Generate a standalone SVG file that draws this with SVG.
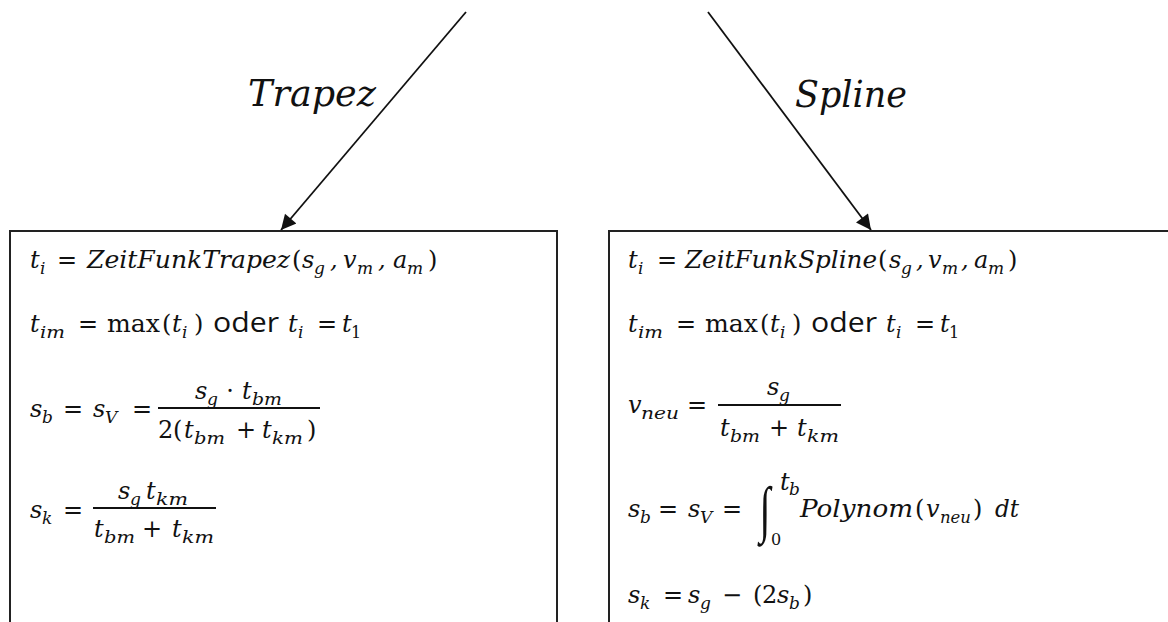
<svg xmlns="http://www.w3.org/2000/svg" width="1168" height="622" viewBox="0 0 1168 622">
<style>
.m{font-family:"DejaVu Serif",serif;font-style:italic;font-size:24px;fill:#111}
.s{font-family:"DejaVu Serif",serif;font-style:italic;font-size:17px;fill:#111}
.u{font-family:"DejaVu Serif",serif;font-size:24px;fill:#111}
.us{font-family:"DejaVu Serif",serif;font-size:16px;fill:#111}
.op{font-family:"DejaVu Serif",serif;font-size:24px;fill:#111;text-anchor:middle}
.o{font-family:"Open Sans","Liberation Sans",sans-serif;font-size:28px;fill:#111}
.int{font-family:"Liberation Serif",serif;font-size:40px;fill:#111;text-anchor:middle}
.lbl{font-family:"DejaVu Serif",serif;font-style:italic;font-size:37px;fill:#111}
.box{fill:#fff;stroke:#222;stroke-width:2}
.bar{stroke:#111;stroke-width:1.8}
.con{stroke:#111;stroke-width:1.8;fill:none}
</style>
<defs>
<marker id="ah" viewBox="0 0 10 10" refX="10" refY="5" markerWidth="20" markerHeight="15" markerUnits="userSpaceOnUse" orient="auto">
<path d="M0,0 L10,5 L0,10 z" fill="#111"/>
</marker>
</defs>
<rect width="1168" height="622" fill="#fff"/>

<g id="connectors">
<line class="con" x1="466" y1="12" x2="281" y2="230" marker-end="url(#ah)"/>
<line class="con" x1="708" y1="12" x2="871" y2="230" marker-end="url(#ah)"/>
<text class="lbl" x="248" y="106" textLength="128" lengthAdjust="spacingAndGlyphs">Trapez</text>
<text class="lbl" x="795" y="107" textLength="112" lengthAdjust="spacingAndGlyphs">Spline</text>
</g>

<g id="trapez">
<rect class="box" x="10" y="231" width="547" height="420"/>
<!-- line 1 -->
<text class="m" x="30" y="268">t</text><text class="s" x="40" y="274">i</text>
<text class="op" x="67" y="268">=</text>
<text class="m" x="87" y="268" textLength="203" lengthAdjust="spacingAndGlyphs">ZeitFunkTrapez</text>
<text class="u" x="292" y="268">(</text>
<text class="m" x="302" y="268">s</text><text class="s" x="314" y="274">g</text>
<text class="m" x="330" y="268">,</text>
<text class="m" x="343" y="268">v</text><text class="s" x="357" y="274">m</text>
<text class="m" x="378" y="268">,</text>
<text class="m" x="393" y="268">a</text><text class="s" x="407" y="274">m</text>
<text class="u" x="428" y="268">)</text>
<!-- line 2 -->
<text class="m" x="30" y="332">t</text><text class="s" x="40" y="338" textLength="25" lengthAdjust="spacingAndGlyphs">im</text>
<text class="op" x="88" y="332">=</text>
<text class="u" x="107" y="332" textLength="53" lengthAdjust="spacingAndGlyphs">max</text>
<text class="u" x="162" y="332">(</text>
<text class="m" x="172" y="332">t</text><text class="s" x="182" y="338">i</text>
<text class="u" x="194" y="332">)</text>
<text class="o" x="213" y="332" textLength="66" lengthAdjust="spacingAndGlyphs">oder</text>
<text class="m" x="288" y="332">t</text><text class="s" x="298" y="338">i</text>
<text class="op" x="327" y="332">=</text>
<text class="m" x="342" y="332">t</text><text class="us" x="351" y="338">1</text>
<!-- line 3 -->
<text class="m" x="30" y="417">s</text><text class="s" x="42" y="423">b</text>
<text class="op" x="73" y="417">=</text>
<text class="m" x="93" y="417">s</text><text class="s" x="105" y="423">V</text>
<text class="op" x="142" y="417">=</text>
<line class="bar" x1="158" y1="408" x2="320" y2="408"/>
<text class="m" x="195" y="399">s</text><text class="s" x="207" y="405">g</text>
<text class="op" x="230" y="399">·</text>
<text class="m" x="242" y="399">t</text><text class="s" x="252" y="405" textLength="30" lengthAdjust="spacingAndGlyphs">bm</text>
<text class="u" x="158" y="438">2</text>
<text class="u" x="173" y="438">(</text>
<text class="m" x="184" y="438">t</text><text class="s" x="194" y="444" textLength="31" lengthAdjust="spacingAndGlyphs">bm</text>
<text class="op" x="246" y="438">+</text>
<text class="m" x="262" y="438">t</text><text class="s" x="272" y="444" textLength="31" lengthAdjust="spacingAndGlyphs">km</text>
<text class="u" x="307" y="438">)</text>
<!-- line 4 -->
<text class="m" x="30" y="518">s</text><text class="s" x="42" y="524">k</text>
<text class="op" x="73" y="518">=</text>
<line class="bar" x1="93" y1="508" x2="216" y2="508"/>
<text class="m" x="118" y="499">s</text><text class="s" x="130" y="505">g</text>
<text class="m" x="146" y="499">t</text><text class="s" x="156" y="505" textLength="32" lengthAdjust="spacingAndGlyphs">km</text>
<text class="m" x="94" y="537">t</text><text class="s" x="104" y="543" textLength="31" lengthAdjust="spacingAndGlyphs">bm</text>
<text class="op" x="152" y="537">+</text>
<text class="m" x="172" y="537">t</text><text class="s" x="182" y="543" textLength="32" lengthAdjust="spacingAndGlyphs">km</text>
</g>

<g id="spline">
<rect class="box" x="609" y="231" width="600" height="420"/>
<!-- line 1 -->
<text class="m" x="628" y="268">t</text><text class="s" x="638" y="274">i</text>
<text class="op" x="667" y="268">=</text>
<text class="m" x="685" y="268" textLength="192" lengthAdjust="spacingAndGlyphs">ZeitFunkSpline</text>
<text class="u" x="878" y="268">(</text>
<text class="m" x="889" y="268">s</text><text class="s" x="901" y="274">g</text>
<text class="m" x="916" y="268">,</text>
<text class="m" x="928" y="268">v</text><text class="s" x="942" y="274">m</text>
<text class="m" x="961" y="268">,</text>
<text class="m" x="974" y="268">a</text><text class="s" x="988" y="274">m</text>
<text class="u" x="1008" y="268">)</text>
<!-- line 2 -->
<text class="m" x="628" y="332">t</text><text class="s" x="638" y="338" textLength="25" lengthAdjust="spacingAndGlyphs">im</text>
<text class="op" x="686" y="332">=</text>
<text class="u" x="705" y="332" textLength="53" lengthAdjust="spacingAndGlyphs">max</text>
<text class="u" x="760" y="332">(</text>
<text class="m" x="770" y="332">t</text><text class="s" x="780" y="338">i</text>
<text class="u" x="792" y="332">)</text>
<text class="o" x="811" y="332" textLength="66" lengthAdjust="spacingAndGlyphs">oder</text>
<text class="m" x="886" y="332">t</text><text class="s" x="896" y="338">i</text>
<text class="op" x="925" y="332">=</text>
<text class="m" x="940" y="332">t</text><text class="us" x="949" y="338">1</text>
<!-- line 3 -->
<text class="m" x="628" y="413">v</text><text class="s" x="641" y="419" textLength="38" lengthAdjust="spacingAndGlyphs">neu</text>
<text class="op" x="697" y="413">=</text>
<line class="bar" x1="718" y1="405" x2="841" y2="405"/>
<text class="m" x="767" y="395">s</text><text class="s" x="779" y="401">g</text>
<text class="m" x="720" y="436">t</text><text class="s" x="730" y="442" textLength="30" lengthAdjust="spacingAndGlyphs">bm</text>
<text class="op" x="779" y="436">+</text>
<text class="m" x="797" y="436">t</text><text class="s" x="807" y="442" textLength="32" lengthAdjust="spacingAndGlyphs">km</text>
<!-- line 4 -->
<text class="m" x="628" y="517">s</text><text class="s" x="640" y="523">b</text>
<text class="op" x="668" y="517">=</text>
<text class="m" x="688" y="517">s</text><text class="s" x="700" y="523">V</text>
<text class="op" x="732" y="517">=</text>
<text class="int" transform="translate(765,530) scale(1,1.55)">∫</text>
<text class="m" x="780" y="490">t</text><text class="s" x="789" y="495">b</text>
<text class="us" x="771" y="545">0</text>
<text class="m" x="800" y="517" textLength="113" lengthAdjust="spacingAndGlyphs">Polynom</text>
<text class="u" x="915" y="517">(</text>
<text class="m" x="926" y="517">v</text><text class="s" x="940" y="523" textLength="31" lengthAdjust="spacingAndGlyphs">neu</text>
<text class="u" x="973" y="517">)</text>
<text class="m" x="995" y="517" textLength="24" lengthAdjust="spacingAndGlyphs">dt</text>
<!-- line 5 -->
<text class="m" x="628" y="603">s</text><text class="s" x="640" y="609">k</text>
<text class="op" x="673" y="603">=</text>
<text class="m" x="688" y="603">s</text><text class="s" x="700" y="609">g</text>
<text class="op" x="732" y="603">−</text>
<text class="u" x="753" y="603">(</text>
<text class="u" x="762" y="603">2</text>
<text class="m" x="777" y="603">s</text><text class="s" x="789" y="609">b</text>
<text class="u" x="803" y="603">)</text>
</g>
</svg>
